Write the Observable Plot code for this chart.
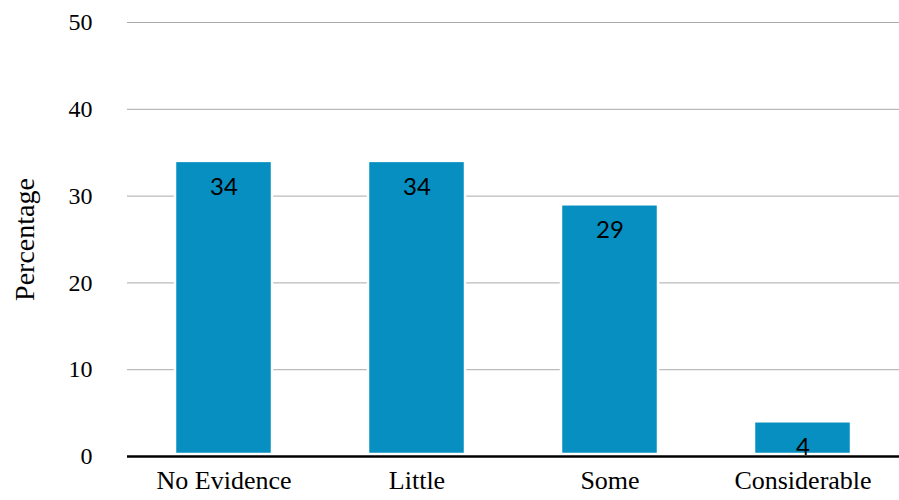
<!DOCTYPE html>
<html>
<head>
<meta charset="utf-8">
<script src="https://cdn.jsdelivr.net/npm/d3@7"></script>
<script src="https://cdn.jsdelivr.net/npm/@observablehq/plot@0.6"></script>
<style>
  html, body { margin: 0; padding: 0; background: #fff; }
  #chart svg { display: block; }
</style>
</head>
<body>
<div id="chart"></div>
<script>
const categories = ["No Evidence", "Little", "Some", "Considerable"];
const values = [34, 34, 29, 4];
const yTicks = [0, 10, 20, 30, 40, 50];

const data = categories.map((c, i) => ({category: c, value: values[i]}));

const chart = Plot.plot({
  width: 899,
  height: 500,
  marginLeft: 127,
  marginRight: 0,
  marginTop: 22,
  marginBottom: 44,
  style: {fontFamily: "'Liberation Serif', serif", background: "#fff"},
  x: {domain: categories, paddingInner: 0.5, paddingOuter: 0.25, label: null},
  y: {domain: [0, 50], ticks: yTicks, label: null},
  marks: [
    Plot.gridY(yTicks.filter(d => d > 0), {stroke: "#aaaaaa", strokeOpacity: 1, strokeWidth: 1}),
    Plot.barY(data, {x: "category", y: "value", fill: "#068fc0", stroke: "#ffffff", strokeWidth: 2.5, insetBottom: 2}),
    Plot.text(data, {x: "category", y: "value", text: d => String(d.value), dy: 26, fill: "#000", fontSize: 24, fontFamily: "Lato, sans-serif"}),
    Plot.ruleY([0], {stroke: "#000", strokeWidth: 2.5}),
    Plot.axisY({ticks: yTicks, tickSize: 0, tickPadding: 35, fontSize: 24, label: null}),
    Plot.axisX({tickSize: 0, tickPadding: 14, fontSize: 26, label: null}),
    Plot.text(["Percentage"], {frameAnchor: "left", dx: -102, rotate: -90, textAnchor: "middle", fontSize: 28, fill: "#000"})
  ]
});
document.getElementById("chart").appendChild(chart);
</script>
</body>
</html>
